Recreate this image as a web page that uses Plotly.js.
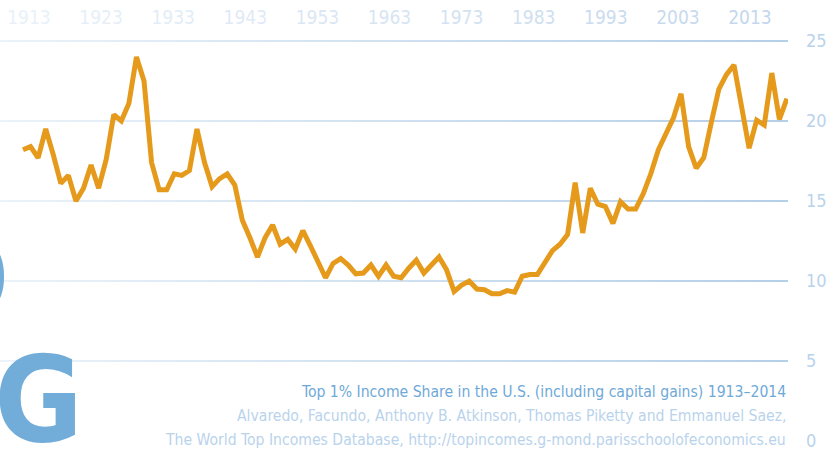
<!DOCTYPE html>
<html>
<head>
<meta charset="utf-8">
<script src="https://cdn.plot.ly/plotly-3.0.1.min.js"></script>
<style>
html,body{margin:0;padding:0;background:#fff;}
#chart{width:831px;height:452px;}
</style>
</head>
<body>
<div id="chart"></div>
<script>
// ---- data ----
var years = [];
for (var yr = 1913; yr <= 2014; yr++) years.push(yr);

var topShare = [
  18.2, 18.4, 17.7, 19.5, 17.9, 16.1, 16.6, 15.0, 15.8, 17.25,
  15.8, 17.6, 20.4, 20.0, 21.1, 24.0, 22.5, 17.4, 15.7, 15.7,
  16.7, 16.6, 16.9, 19.5, 17.4, 15.9, 16.4, 16.7, 16.0, 13.8,
  12.7, 11.5, 12.7, 13.5, 12.3, 12.6, 12.0, 13.15, 12.2, 11.2,
  10.2, 11.1, 11.4, 11.0, 10.45, 10.5, 11.0, 10.3, 11.0, 10.3,
  10.2, 10.8, 11.3, 10.5, 11.05, 11.5, 10.7, 9.35, 9.75, 10.0,
  9.5, 9.45, 9.2, 9.2, 9.4, 9.3, 10.3, 10.4, 10.4, 11.1,
  11.9, 12.3, 12.9, 16.15, 13.0, 15.8, 14.8, 14.65, 13.6, 14.95,
  14.5, 14.5, 15.45, 16.7, 18.2, 19.2, 20.2, 21.7, 18.4, 17.05,
  17.7, 19.9, 22.0, 22.9, 23.5, 20.9, 18.3, 20.05, 19.75, 23.0,
  20.1, 21.4
];

var xTickYears = [1913, 1923, 1933, 1943, 1953, 1963, 1973, 1983, 1993, 2003, 2013];
var xTickColors = ['#e9f1f9', '#e6eff8', '#e3edf7', '#dfeaf6', '#dbe7f4', '#d7e5f3',
                   '#d3e2f1', '#cfdff0', '#cbdcef', '#c7daee', '#c3d7ed'];
var yTickVals = [0, 5, 10, 15, 20, 25];
var yTickText = ['0', '5', '10', '15', '20', '25'];

var titleLine = 'Top 1% Income Share in the U.S. (including capital gains) 1913\u20132014';
var sourceLine1 = 'Alvaredo, Facundo, Anthony B. Atkinson, Thomas Piketty and Emmanuel Saez,';
var sourceLine2 = 'The World Top Incomes Database, http://topincomes.g-mond.parisschoolofeconomics.eu';
var bigWordTop = 'D';
var bigWordBottom = 'NG';

// ---- styling ----
var FONT = '"DejaVu Sans Condensed", "Liberation Sans Narrow", sans-serif';
var dataRange = [1909.96, 2014.14];
var labelRange = [1908.98, 2018.27];
var yRange = [0, 25.5];   // 16 px per unit, plot height 408, top at 33 -> 25 sits at y=41

var xTickText = xTickYears.map(function (y, i) {
  return '<span style="color:' + xTickColors[i] + '">' + y + '</span>';
});

var fadeSvg = "<svg xmlns='http://www.w3.org/2000/svg' width='100' height='10' preserveAspectRatio='none'>" +
  "<defs><linearGradient id='g' x1='0' x2='1' y1='0' y2='0'>" +
  "<stop offset='0' stop-color='#ffffff' stop-opacity='0.74'/>" +
  "<stop offset='1' stop-color='#ffffff' stop-opacity='0'/>" +
  "</linearGradient></defs><rect width='100' height='10' fill='url(#g)'/></svg>";
var fadeUri = 'data:image/svg+xml;charset=utf-8,' + encodeURIComponent(fadeSvg);

var traces = [
  { type: 'scatter', mode: 'lines', x: [], y: [], xaxis: 'x', yaxis: 'y',
    hoverinfo: 'skip', showlegend: false },
  { type: 'scatter', mode: 'lines', x: years, y: topShare, xaxis: 'x2', yaxis: 'y2',
    line: { color: '#e59a1c', width: 5, shape: 'linear' },
    hoverinfo: 'skip', showlegend: false }
];

var layout = {
  width: 831, height: 452,
  margin: { l: 0, r: 43, t: 33, b: 11, pad: 0 },
  paper_bgcolor: '#ffffff',
  plot_bgcolor: 'rgba(0,0,0,0)',
  showlegend: false,
  font: { family: FONT, color: '#b9d3ec' },
  xaxis: {
    domain: [0, 1], anchor: 'y', side: 'top',
    range: labelRange, fixedrange: true,
    tickmode: 'array', tickvals: xTickYears, ticktext: xTickText,
    ticks: '', showgrid: false, zeroline: false, showline: false,
    ticklabelstandoff: 4,
    tickfont: { family: FONT, size: 19, color: '#d3e2f1' }
  },
  yaxis: {
    domain: [0, 1], anchor: 'x', side: 'right',
    range: yRange, fixedrange: true,
    tickmode: 'array', tickvals: yTickVals, ticktext: yTickText,
    ticks: '', showline: false,
    showgrid: true, gridcolor: '#b4cfe8', gridwidth: 1.6,
    zeroline: true, zerolinecolor: 'rgba(0,0,0,0)', zerolinewidth: 0.1,
    ticklabelstandoff: 17,
    tickfont: { family: FONT, size: 18, color: '#b9d3ec' }
  },
  xaxis2: {
    domain: [0, 1], anchor: 'y2', range: dataRange, visible: false, fixedrange: true
  },
  yaxis2: {
    domain: [0, 1], anchor: 'x2', range: yRange, visible: false, fixedrange: true
  },
  images: [{
    source: fadeUri, xref: 'x2', yref: 'y2', layer: 'below',
    x: dataRange[0], y: yRange[1], sizex: dataRange[1] - dataRange[0], sizey: yRange[1],
    xanchor: 'left', yanchor: 'top', sizing: 'stretch', opacity: 1
  }],
  annotations: [
    { text: bigWordTop, xref: 'paper', yref: 'paper', x: 0.0152, y: 0.3971,
      xanchor: 'right', yanchor: 'middle', showarrow: false,
      font: { family: FONT, size: 130, weight: 700, color: '#72acd9' } },
    { text: bigWordBottom, xref: 'paper', yref: 'paper', x: 0.1085, y: 0.1005,
      xanchor: 'right', yanchor: 'middle', showarrow: false,
      font: { family: FONT, size: 120, weight: 700, color: '#72acd9' } },
    { text: titleLine, xref: 'paper', yref: 'paper', x: 1, y: 0.1201,
      xanchor: 'right', yanchor: 'middle', showarrow: false, align: 'right',
      font: { family: FONT, size: 15.6, color: '#6fa9d8' } },
    { text: sourceLine1, xref: 'paper', yref: 'paper', x: 1, y: 0.0613,
      xanchor: 'right', yanchor: 'middle', showarrow: false, align: 'right',
      font: { family: FONT, size: 15.6, color: '#b9d3ec' } },
    { text: sourceLine2, xref: 'paper', yref: 'paper', x: 1, y: 0.0025,
      xanchor: 'right', yanchor: 'middle', showarrow: false, align: 'right',
      font: { family: FONT, size: 15.6, color: '#b9d3ec' } }
  ]
};

Plotly.newPlot('chart', traces, layout, { staticPlot: true, displayModeBar: false });
</script>
</body>
</html>
